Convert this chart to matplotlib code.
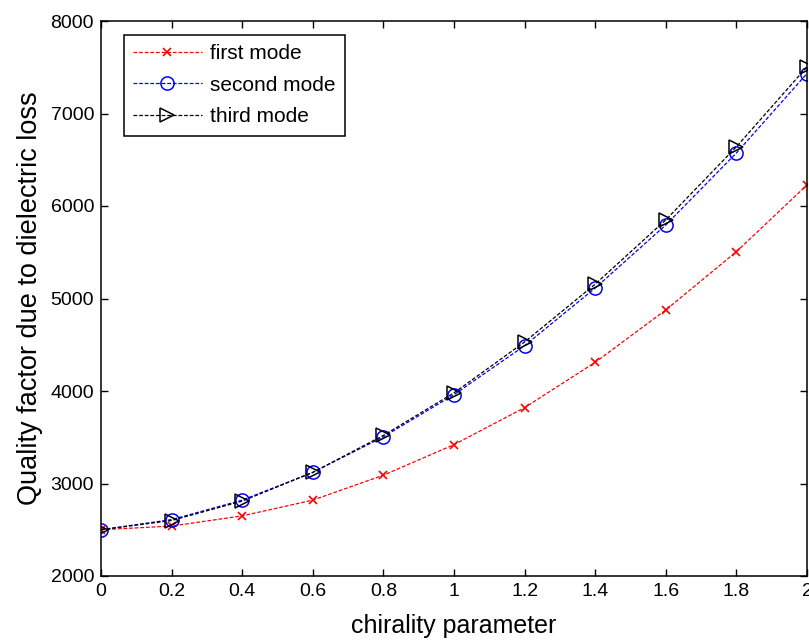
import matplotlib
matplotlib.use('Agg')
from matplotlib import pyplot as plt

plt.rcParams['font.family'] = ['Liberation Sans', 'DejaVu Sans']

chirality = [0, 0.2, 0.4, 0.6, 0.8, 1.0, 1.2, 1.4, 1.6, 1.8, 2.0]
first_mode = [2500, 2540, 2650, 2820, 3090, 3420, 3820, 4310, 4876, 5506, 6227]
second_mode = [2500, 2610, 2820, 3120, 3505, 3960, 4490, 5113, 5795, 6573, 7432]
third_mode = [2500, 2600, 2810, 3120, 3520, 3980, 4530, 5155, 5850, 6640, 7505]

x_ticks = [0, 0.2, 0.4, 0.6, 0.8, 1, 1.2, 1.4, 1.6, 1.8, 2]
x_tick_labels = ['0', '0.2', '0.4', '0.6', '0.8', '1', '1.2', '1.4', '1.6', '1.8', '2']
y_ticks = [2000, 3000, 4000, 5000, 6000, 7000, 8000]

fig = plt.figure(figsize=(8.09, 6.41), dpi=100)
ax = fig.add_axes([101 / 809, 65 / 641, 706 / 809, 555 / 641])

ax.plot(chirality, first_mode, color='red', linestyle='--', linewidth=0.9,
        marker='x', markersize=6, markeredgewidth=1.2, dashes=(3, 1.5), label='first mode')
ax.plot(chirality, second_mode, color='blue', linestyle='--', linewidth=0.9,
        marker='o', markersize=9.5, markerfacecolor='none', markeredgewidth=1.1,
        dashes=(3, 1.5), label='second mode')
ax.plot(chirality, third_mode, color='black', linestyle='--', linewidth=0.9,
        marker='>', markersize=10.5, markerfacecolor='none', markeredgewidth=1.1,
        dashes=(3, 1.5), label='third mode')

ax.set_xlim(0, 2)
ax.set_ylim(2000, 8000)
ax.set_xticks(x_ticks)
ax.set_xticklabels(x_tick_labels)
ax.set_yticks(y_ticks)
ax.tick_params(direction='in', top=True, right=True, length=5, width=1,
               labelsize=14, pad=5)
for spine in ax.spines.values():
    spine.set_linewidth(1.1)

ax.set_xlabel('chirality parameter', fontsize=18, labelpad=10)
ax.set_ylabel('Quality factor due to dielectric loss', fontsize=19.5, labelpad=5)

leg = ax.legend(loc='upper left', bbox_to_anchor=(0.032, 0.975), fontsize=15,
                fancybox=False, framealpha=1, edgecolor='black',
                handlelength=3.3, borderpad=0.45, labelspacing=0.6,
                handletextpad=0.4, borderaxespad=0)
leg.get_frame().set_linewidth(1.1)

fig.savefig('out.png', dpi=100)
